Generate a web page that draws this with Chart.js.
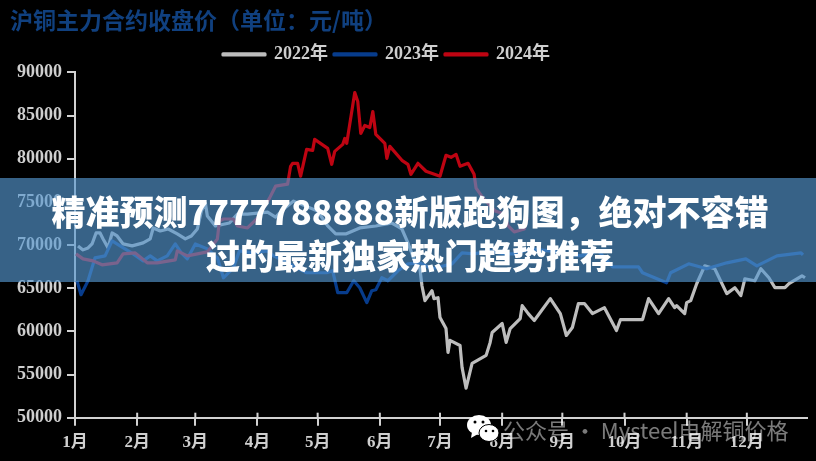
<!DOCTYPE html>
<html>
<head>
<meta charset="utf-8">
<script src="https://cdn.jsdelivr.net/npm/chart.js@4"></script>
<style>
  html, body { margin: 0; padding: 0; background: #000; }
  #wrap { position: relative; width: 816px; height: 461px; overflow: hidden; background: #000; }
  #banner {
    position: absolute; left: 0; top: 178px; width: 816px; height: 104px;
    background: rgba(85, 151, 208, 0.65);
    color: #fff; text-align: center;
    font: 900 34px/44px "Noto Sans CJK SC", sans-serif;
    padding: 11px 0 0 4px; box-sizing: border-box; white-space: nowrap;
  }
  #mark {
    position: absolute; left: 503px; top: 414px; white-space: nowrap;
    font: 22px/30px "Noto Sans CJK SC", sans-serif; color: rgba(255, 255, 255, 0.48);
  }
  #icon { position: absolute; left: 466px; top: 414px; }
</style>
</head>
<body>
<div id="wrap">
  <canvas id="chart" width="816" height="461"></canvas>
  <div id="banner">精准预测7777788888新版跑狗图，绝对不容错<br>过的最新独家热门趋势推荐</div>
  <svg id="icon" width="34" height="30" viewBox="0 0 34 30">
    <ellipse cx="13" cy="11" rx="12" ry="10" fill="#fff"/>
    <path d="M6 18 L5 24 L12 20 Z" fill="#fff"/>
    <ellipse cx="23" cy="19" rx="10" ry="8.5" fill="#fff" stroke="#000" stroke-width="1"/>
    <circle cx="9" cy="8" r="1.5" fill="#000"/><circle cx="17" cy="8" r="1.5" fill="#000"/>
    <circle cx="20" cy="17" r="1.3" fill="#000"/><circle cx="27" cy="17" r="1.3" fill="#000"/>
  </svg>
  <div id="mark">公众号 · Mysteel电解铜价格</div>
</div>
<script>
'use strict';

const monthDays = [0, 31, 60, 91, 121, 152, 182, 213, 243, 274, 305, 335];
const monthLabels = ['1月', '2月', '3月', '4月', '5月', '6月', '7月', '8月', '9月', '10月', '11月', '12月'];

const days2022 = [1.5, 4, 6.5, 8.5, 10.5, 12.5, 14, 16.5, 18.5, 21, 24, 28.5, 34, 37.5, 39, 42.5, 46.5, 51, 55, 58, 61, 63, 65, 66, 70, 77, 81, 86, 91, 96, 100, 104, 109, 115, 121, 126, 130, 135, 142, 150, 158, 163, 166, 169, 172, 173, 174.5, 178, 179, 181, 182, 185, 186, 187, 192, 193, 195, 198, 205, 207, 208, 213, 215, 217, 222, 223, 226, 229, 237, 242, 245, 248, 251, 254, 258, 264, 270, 272, 283, 286, 291, 296, 299, 300, 304, 305, 307, 310, 314, 319, 325, 329, 332, 334, 339, 342, 346, 349, 354, 356, 362.5, 364];
const prices2022 = [69900, 69440, 69670, 70130, 71400, 71400, 70710, 69670, 71400, 71055, 70130, 69900, 70250, 70710, 71980, 71630, 71860, 71285, 70710, 71055, 71860, 73940, 74860, 73360, 72210, 72550, 73590, 73590, 73700, 73820, 73245, 74170, 75090, 74510, 73940, 72210, 71285, 71285, 71980, 72210, 72550, 71860, 70250, 68400, 67250, 65290, 63560, 64710, 63790, 63900, 61600, 60330, 57560, 58950, 58370, 55835, 53415, 56300, 57220, 58720, 59870, 60910, 58720, 60330, 61485, 62985, 62060, 61255, 63790, 62060, 59525, 60450, 63215, 63215, 62060, 62750, 60100, 61370, 61370, 63790, 62060, 63790, 62750, 62985, 62060, 63330, 63560, 65520, 67595, 67250, 64370, 65060, 64140, 66095, 65865, 67250, 66210, 65060, 65060, 65520, 66440, 66210];

const days2023 = [1, 3, 6.5, 10, 15, 18.5, 22.5, 29, 34, 37.5, 41, 46, 50, 53, 56, 60, 66, 71, 74, 79, 82, 89, 96, 99, 107, 115.5, 125.5, 128.5, 131, 135.5, 139, 142, 145.5, 148, 150, 153, 156, 161, 166, 172, 178, 184, 188, 193, 199, 207, 214, 219, 227, 236.5, 252, 261, 268, 281, 283, 289, 295, 297, 306, 315, 325, 334.5, 340, 350, 362, 363];
const prices2023 = [65865, 64250, 65865, 68520, 68750, 70480, 69900, 68980, 68170, 68750, 68170, 68750, 70130, 69095, 68400, 70130, 69555, 68520, 66210, 67365, 69325, 69095, 69325, 68750, 67825, 66790, 66790, 67020, 64480, 64480, 65865, 65060, 63330, 64710, 64830, 66210, 65865, 67020, 67825, 67940, 67250, 67595, 67825, 69095, 68980, 69325, 68980, 68980, 69555, 69325, 68750, 69325, 67480, 67480, 66790, 66210, 65635, 66790, 67825, 67250, 67940, 68400, 67595, 68750, 69095, 68860];

const days2024 = [0.5, 4, 9, 13.5, 21, 24, 30, 36, 41, 50, 51, 56, 66, 71, 72, 74, 79, 81, 86, 91, 97, 100, 106, 107.5, 108.5, 111, 112.5, 115.5, 118.5, 119.5, 126, 128, 129.5, 133.5, 134.5, 135.5, 139.5, 141, 142.5, 144.5, 147, 148.5, 150, 154.5, 155.5, 157, 163, 166, 167.5, 171, 175, 182, 185, 187.5, 190, 192, 196, 199, 200, 203.5, 209.5, 214, 216, 219, 224, 225.5];
const prices2024 = [68980, 68400, 68170, 67710, 67940, 68980, 69095, 67940, 67940, 68290, 69325, 68750, 69210, 70710, 72780, 73015, 73015, 72210, 71980, 73130, 75435, 76820, 77050, 79125, 79470, 79470, 77975, 81085, 80970, 82240, 81200, 79355, 80855, 81660, 82355, 81780, 87660, 86620, 82930, 83850, 83620, 85470, 82815, 81775, 80050, 81430, 79815, 79355, 78200, 79470, 78550, 77975, 80395, 80165, 80510, 79125, 79470, 78200, 76590, 75435, 73935, 73590, 72210, 71515, 71860, 73130];

const seriesNames = ['2022年', '2023年', '2024年'];
const axisColor = '#d2d2d2';
const textFont = '"Liberation Serif", "Noto Sans CJK SC", serif';

function toPoints(days, prices) {
  return days.map((d, i) => ({ x: d, y: prices[i] }));
}

// ticks on the x axis also stick up into the plot, the legend sits left of centre, title is inset
const chartTweaks = {
  id: 'chartTweaks',
  afterLayout(chart) {
    const lg = chart.legend;
    lg.left -= 17; lg.right -= 17;
    lg.top += 1; lg.bottom += 1;
    chart.titleBlock.left += 10; chart.titleBlock.right += 10;
  },
  afterDatasetsDraw(chart) {
    const { ctx, scales } = chart;
    ctx.save();
    ctx.strokeStyle = axisColor;
    ctx.lineWidth = 2;
    scales.x.ticks.forEach((t, i) => {
      const px = scales.x.getPixelForTick(i);
      ctx.beginPath();
      ctx.moveTo(px, scales.x.top - 5);
      ctx.lineTo(px, scales.x.top);
      ctx.stroke();
    });
    ctx.restore();
  }
};

const ctx = document.getElementById('chart');

new Chart(ctx, {
  type: 'line',
  data: {
    datasets: [
      { label: seriesNames[0], data: toPoints(days2022, prices2022), borderColor: '#bdbdbd', backgroundColor: '#bdbdbd', order: 3 },
      { label: seriesNames[1], data: toPoints(days2023, prices2023), borderColor: '#073c8c', backgroundColor: '#073c8c', order: 2 },
      { label: seriesNames[2], data: toPoints(days2024, prices2024), borderColor: '#be0412', backgroundColor: '#be0412', order: 1 }
    ]
  },
  options: {
    responsive: false,
    animation: false,
    layout: { padding: { right: 9 } },
    elements: {
      line: { borderWidth: 3.2, tension: 0, borderJoinStyle: 'round' },
      point: { radius: 0 }
    },
    plugins: {
      tooltip: { enabled: false },
      title: {
        display: true,
        text: '沪铜主力合约收盘价（单位：元/吨）',
        align: 'start',
        color: '#10407f',
        font: { family: '"Noto Sans CJK SC", sans-serif', size: 23, weight: 'bold', lineHeight: 1.2 },
        padding: { top: 6, bottom: 4.8 }
      },
      legend: {
        position: 'top',
        labels: {
          color: '#cfcfcf',
          font: { family: textFont, size: 18, weight: 'bold' },
          boxWidth: 42,
          boxHeight: 1,
          padding: 6,
          sort: (a, b) => a.datasetIndex - b.datasetIndex
        }
      }
    },
    scales: {
      x: {
        type: 'linear',
        min: 0,
        max: 365,
        afterBuildTicks(scale) {
          scale.ticks = monthDays.map(d => ({ value: d }));
        },
        afterFit(scale) { scale.height = 43.3; },
        border: { color: axisColor, width: 2 },
        grid: { drawOnChartArea: false, color: axisColor, lineWidth: 2, tickLength: 8 },
        ticks: {
          autoSkip: false,
          maxRotation: 0,
          padding: 7,
          color: '#cfcfcf',
          font: { family: textFont, size: 17, weight: 'bold' },
          callback: (v, i) => monthLabels[i]
        }
      },
      y: {
        min: 50000,
        max: 90000,
        afterFit(scale) { scale.width = 75; },
        border: { color: axisColor, width: 2 },
        grid: { drawOnChartArea: false, color: axisColor, lineWidth: 2, tickLength: 8 },
        ticks: {
          stepSize: 5000,
          padding: 5,
          color: '#cfcfcf',
          font: { family: textFont, size: 18, weight: 'bold' },
          callback: v => String(v)
        }
      }
    }
  },
  plugins: [chartTweaks]
});
</script>
</body>
</html>
